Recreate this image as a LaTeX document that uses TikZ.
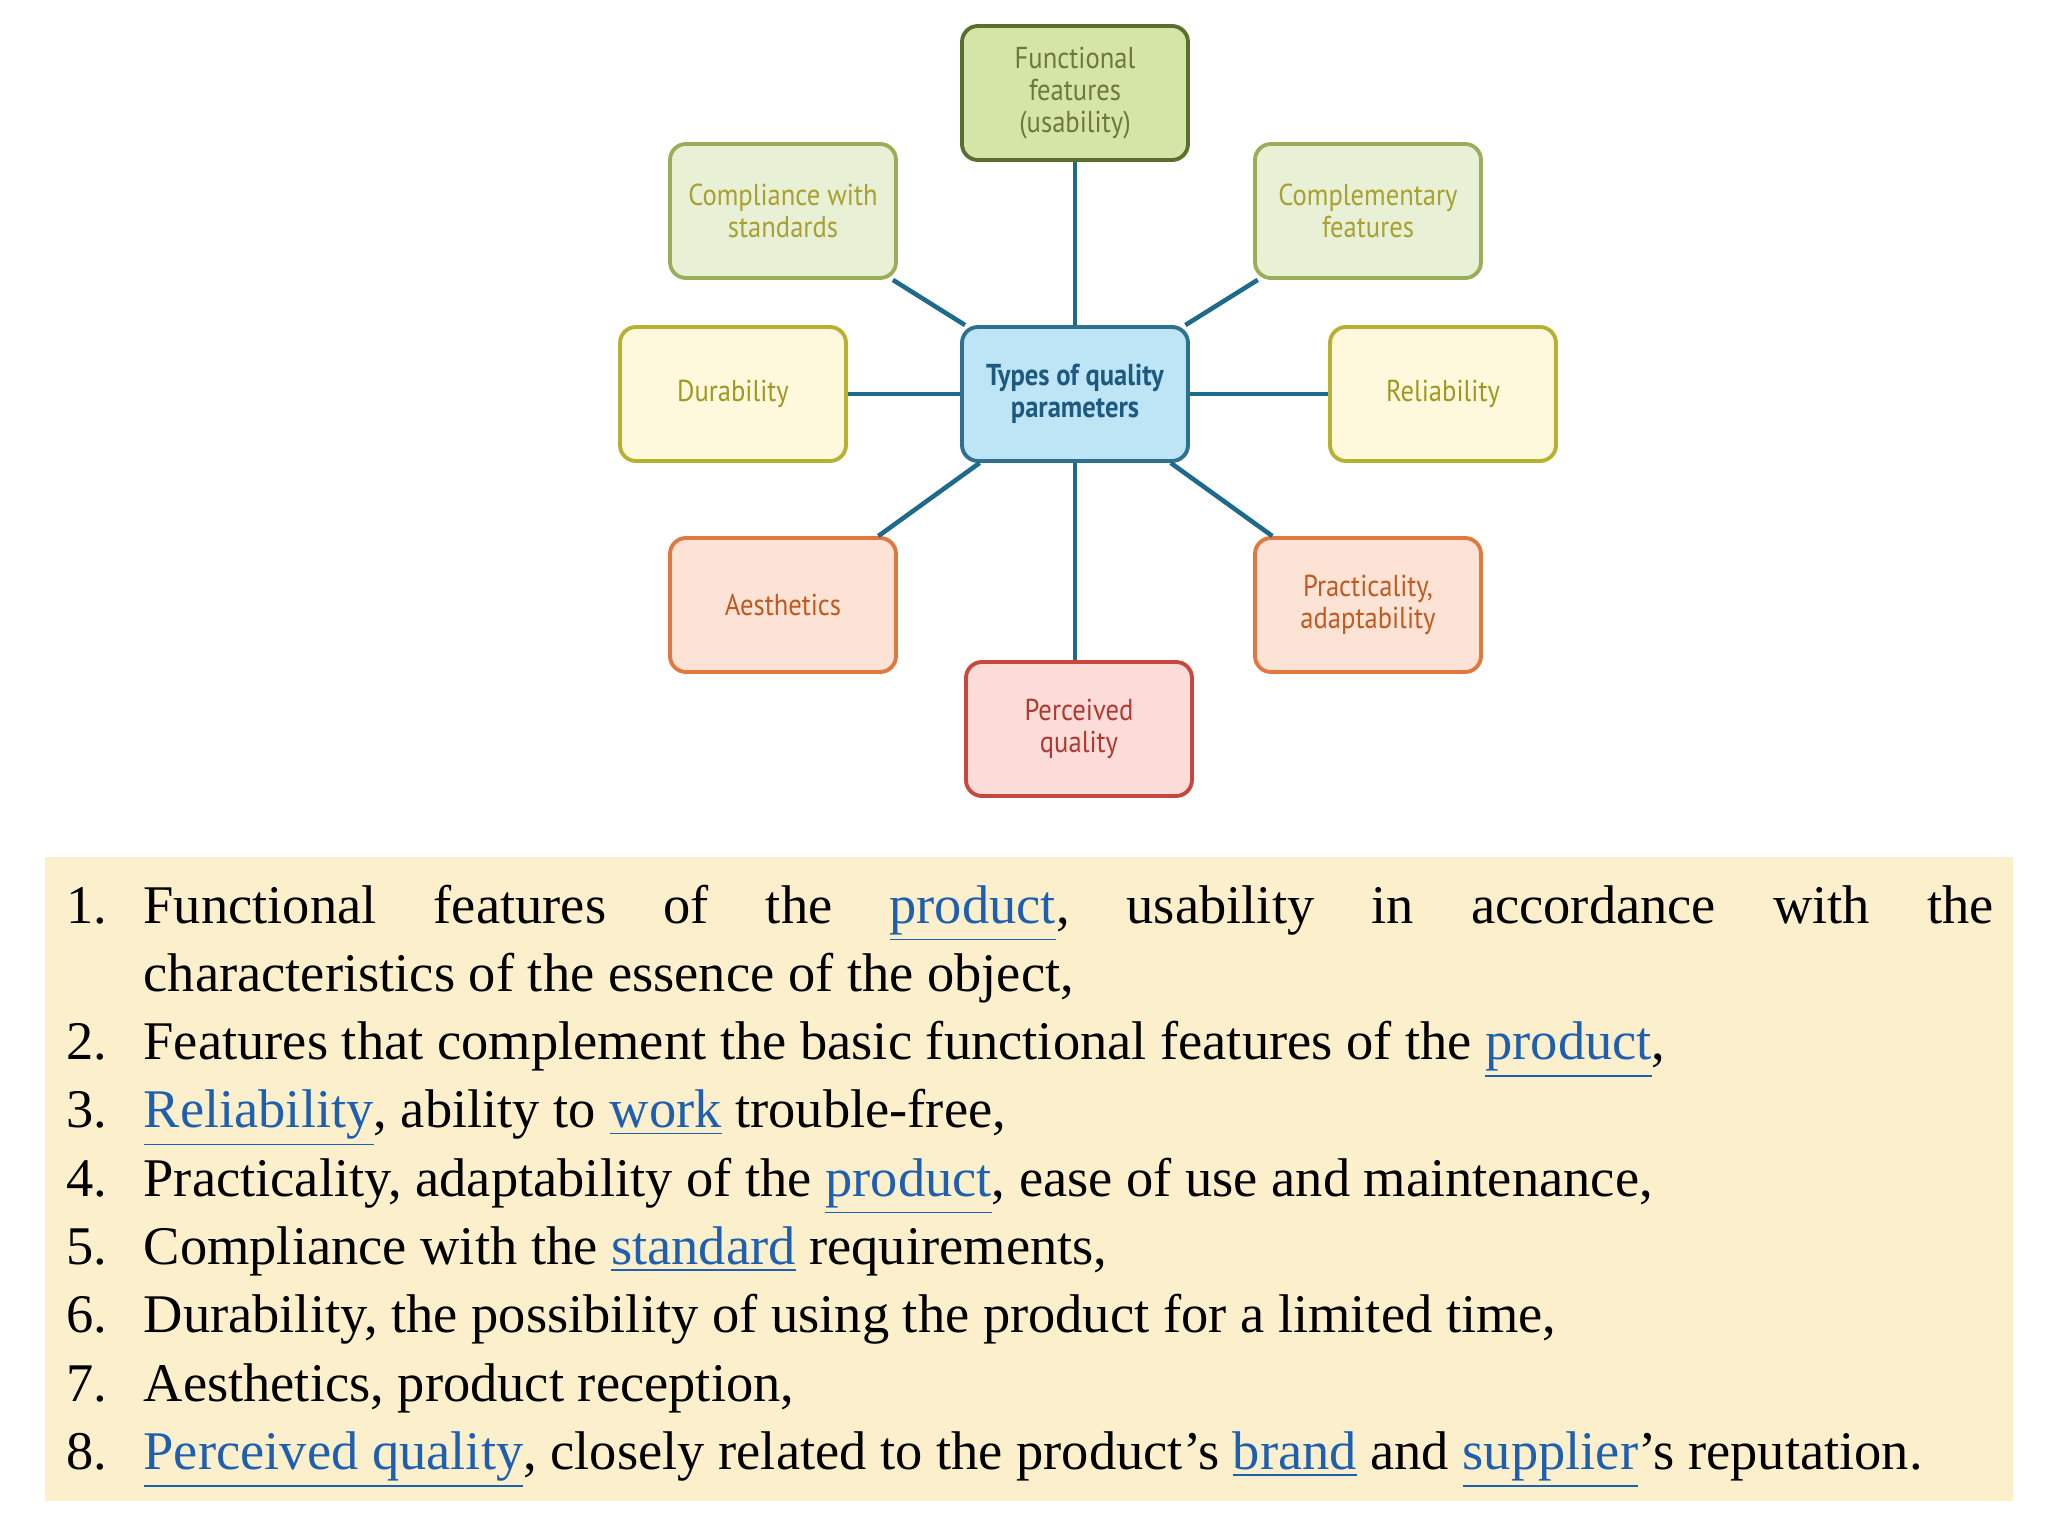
\documentclass[tikz,border=0pt]{standalone}
\usepackage{fontspec}
\setmainfont{Liberation Serif}
\newfontfamily\diag[FakeStretch=0.88]{PT Sans}
\definecolor{lnk}{HTML}{1F5FB0}
\definecolor{panel}{HTML}{FCF0CC}
\definecolor{conn}{HTML}{1E6A8A}
\newcommand{\lk}[1]{\textcolor{lnk}{\underline{#1}}}
\begin{document}
\begin{tikzpicture}[x=1cm,y=1cm,
  box/.style={rounded corners=0.16cm, line width=1.1pt, minimum width=2.26cm, minimum height=1.34cm, align=center, font=\diag\fontsize{8.6}{9}\selectfont, inner sep=1pt},
  lv1/.style={box, fill=#1},
  num/.style={anchor=base west, inner sep=0pt, font=\fontsize{15.5}{19}\selectfont},
  txt/.style={anchor=base west, inner sep=0pt, font=\fontsize{15.5}{19}\selectfont},
  con/.style={draw=conn, line width=1.3pt}]
\useasboundingbox (0,0) rectangle (20.48,-15.36);
\fill[white] (0,0) rectangle (20.48,-15.36);
\node[box, fill={rgb,255:red,213;green,229;blue,168}, draw={rgb,255:red,90;green,110;blue,46}, text={rgb,255:red,107;green,122;blue,58}] (f) at (10.75,-0.93) {Functional\\features\\(usability)};
\node[box, fill={rgb,255:red,232;green,240;blue,213}, draw={rgb,255:red,154;green,174;blue,90}, text={rgb,255:red,168;green,160;blue,48}] (cs) at (7.83,-2.11) {Compliance with\\standards};
\node[box, fill={rgb,255:red,232;green,240;blue,213}, draw={rgb,255:red,154;green,174;blue,90}, text={rgb,255:red,168;green,160;blue,48}] (cf) at (13.68,-2.11) {Complementary\\features};
\node[box, fill={rgb,255:red,254;green,249;blue,220}, draw={rgb,255:red,184;green,176;blue,48}, text={rgb,255:red,160;green,152;blue,32}] (d) at (7.33,-3.94) {Durability};
\node[box, fill={rgb,255:red,254;green,249;blue,220}, draw={rgb,255:red,184;green,176;blue,48}, text={rgb,255:red,160;green,152;blue,32}] (r) at (14.43,-3.94) {Reliability};
\node[box, fill={rgb,255:red,189;green,229;blue,245}, draw={rgb,255:red,46;green,112;blue,144}, text={rgb,255:red,30;green,90;blue,128}, font=\diag\bfseries\fontsize{8.6}{9}\selectfont] (c) at (10.75,-3.94) {Types of quality\\parameters};
\node[box, fill={rgb,255:red,253;green,227;blue,213}, draw={rgb,255:red,224;green,120;blue,64}, text={rgb,255:red,192;green,90;blue,32}] (a) at (7.83,-6.05) {Aesthetics};
\node[box, fill={rgb,255:red,253;green,227;blue,213}, draw={rgb,255:red,224;green,120;blue,64}, text={rgb,255:red,192;green,90;blue,32}] (p) at (13.68,-6.05) {Practicality,\\adaptability};
\node[box, fill={rgb,255:red,251;green,220;blue,216}, draw={rgb,255:red,200;green,72;blue,64}, text={rgb,255:red,176;green,58;blue,48}] (q) at (10.79,-7.29) {Perceived\\quality};
\draw[con] (c) -- (f);
\draw[con] (c) -- (cs);
\draw[con] (c) -- (cf);
\draw[con] (c) -- (d);
\draw[con] (c) -- (r);
\draw[con] (c) -- (a);
\draw[con] (c) -- (p);
\draw[con] (c.south) -- (c.south |- q.north);
\fill[panel] (0.45,-8.57) rectangle (20.13,-15.01);
\node[num] (n1) at (0.66,-9.23) {1.};
\node[txt] (t1) at (1.43,-9.23) {\hbox to 18.5cm{Functional\hfill features\hfill of\hfill the\hfill \lk{product},\hfill usability\hfill in\hfill accordance\hfill with\hfill the}};
\node[txt] (t1b) at (1.43,-9.913) {characteristics of the essence of the object,};
\node[num] (n2) at (0.66,-10.596) {2.};
\node[txt] (t2) at (1.43,-10.596) {Features that complement the basic functional features of the \lk{product},};
\node[num] (n3) at (0.66,-11.279) {3.};
\node[txt] (t3) at (1.43,-11.279) {\lk{Reliability}, ability to \lk{work} trouble-free,};
\node[num] (n4) at (0.66,-11.962) {4.};
\node[txt] (t4) at (1.43,-11.962) {Practicality, adaptability of the \lk{product}, ease of use and maintenance,};
\node[num] (n5) at (0.66,-12.645) {5.};
\node[txt] (t5) at (1.43,-12.645) {Compliance with the \lk{standard} requirements,};
\node[num] (n6) at (0.66,-13.328) {6.};
\node[txt] (t6) at (1.43,-13.328) {Durability, the possibility of using the product for a limited time,};
\node[num] (n7) at (0.66,-14.011) {7.};
\node[txt] (t7) at (1.43,-14.011) {Aesthetics, product reception,};
\node[num] (n8) at (0.66,-14.694) {8.};
\node[txt] (t8) at (1.43,-14.694) {\lk{Perceived quality}, closely related to the product's \lk{brand} and \lk{supplier}'s reputation.};
\end{tikzpicture}
\end{document}
